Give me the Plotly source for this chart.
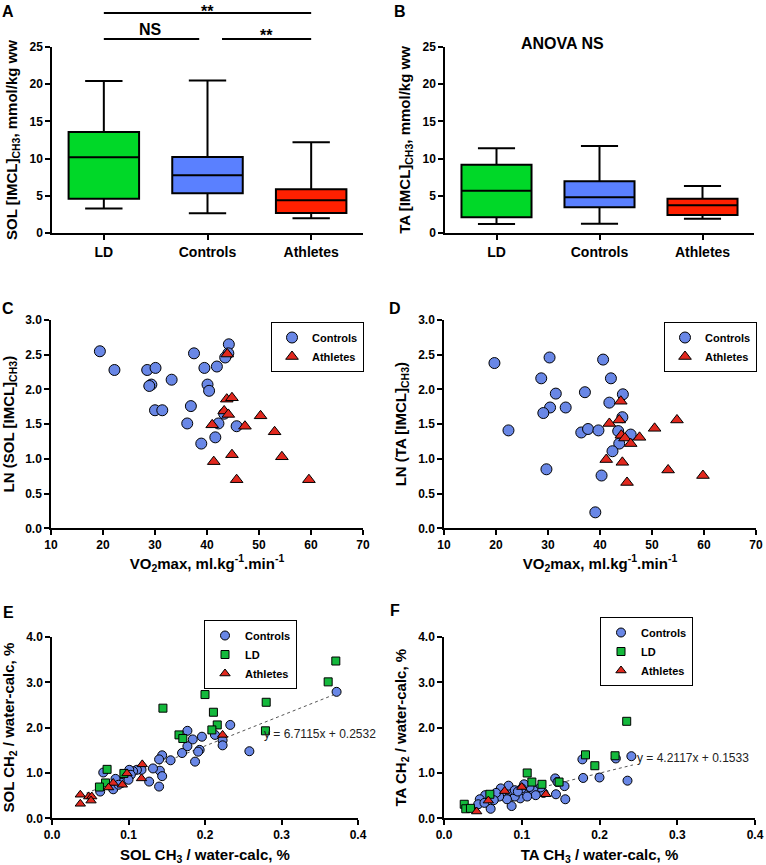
import plotly.graph_objects as go

# ---------------- data ----------------
groups = ["LD", "Controls", "Athletes"]
box_colors = ["rgb(0,216,40)", "rgb(90,128,255)", "rgb(255,32,0)"]

# Panel A: SOL [IMCL]CH3 box statistics
sol_lower = [3.3, 2.64, 1.97]
sol_q1 = [4.61, 5.33, 2.69]
sol_median = [10.17, 7.75, 4.39]
sol_q3 = [13.57, 10.2, 5.87]
sol_upper = [20.43, 20.5, 12.2]

# Panel B: TA [IMCL]CH3 box statistics
ta_lower = [1.21, 1.25, 1.93]
ta_q1 = [2.11, 3.45, 2.42]
ta_median = [5.69, 4.79, 3.72]
ta_q3 = [9.18, 6.94, 4.61]
ta_upper = [11.38, 11.69, 6.32]

# Panel C: LN(SOL) vs VO2max
c_ctrl_vo2 = [19.4, 22.2, 28.5, 30.1, 29.3, 28.9, 33.2, 30.0, 31.4, 37.5, 39.5, 41.9,
              40.1, 40.4, 36.9, 36.2, 42.2, 38.9, 41.6, 45.7, 44.2, 44.1, 43.5, 43.3]
c_ctrl_ln = [2.55, 2.28, 2.28, 2.31, 2.07, 2.05, 2.14, 1.70, 1.70, 2.52, 2.31, 2.33,
             2.07, 1.98, 1.76, 1.51, 1.51, 1.22, 1.31, 1.47, 2.65, 2.52, 2.46, 1.65]
c_ath_vo2 = [43.9, 43.8, 44.8, 43.3, 44.1, 41.0, 47.3, 50.3, 53.0, 54.4, 44.8, 41.3, 45.7, 59.6]
c_ath_ln = [2.51, 1.86, 1.88, 1.69, 1.64, 1.49, 1.47, 1.62, 1.39, 1.03, 1.06, 0.96, 0.70, 0.70]

# Panel D: LN(TA) vs VO2max
d_ctrl_vo2 = [19.7, 22.4, 28.7, 30.3, 31.5, 30.4, 29.1, 33.4, 29.7, 37.1, 36.4, 37.7,
              39.7, 40.6, 42.1, 41.8, 44.4, 44.3, 43.5, 43.7, 45.9, 42.4, 40.3, 39.1]
d_ctrl_ln = [2.38, 1.41, 2.16, 2.46, 1.94, 1.74, 1.66, 1.74, 0.85, 1.96, 1.38, 1.43,
             1.41, 2.43, 2.16, 1.81, 1.93, 1.60, 1.40, 1.22, 1.35, 1.11, 0.76, 0.23]
d_ath_vo2 = [44.0, 43.7, 41.8, 44.1, 44.8, 45.9, 47.6, 50.5, 54.8, 41.2, 44.3, 45.2, 53.1, 59.8]
d_ath_ln = [1.83, 1.56, 1.51, 1.34, 1.30, 1.22, 1.31, 1.44, 1.56, 0.99, 0.95, 0.66, 0.84, 0.76]

# Panel E: SOL CH2 vs CH3
e_ctrl_ch3 = [0.372, 0.258, 0.233, 0.223, 0.223, 0.213, 0.196, 0.193, 0.191, 0.187, 0.184, 0.177,
              0.177, 0.170, 0.155, 0.144, 0.140, 0.141, 0.144, 0.140, 0.132, 0.127, 0.117, 0.111,
              0.106, 0.101, 0.103, 0.096, 0.091, 0.083, 0.080, 0.087, 0.067, 0.063, 0.100]
e_ctrl_ch2 = [2.79, 1.48, 2.06, 1.72, 1.61, 1.84, 1.80, 1.51, 1.47, 1.25, 1.74, 1.93,
              1.59, 1.44, 1.28, 1.39, 1.30, 1.05, 0.93, 0.70, 1.10, 0.81, 1.07, 1.07,
              1.04, 1.07, 0.96, 0.91, 0.78, 0.87, 0.64, 0.74, 1.01, 0.59, 0.85]
e_ld_ch3 = [0.371, 0.361, 0.280, 0.279, 0.200, 0.145, 0.211, 0.216, 0.209, 0.166, 0.171,
            0.072, 0.094, 0.070, 0.062]
e_ld_ch2 = [3.47, 3.01, 2.56, 1.93, 2.73, 2.43, 2.34, 2.06, 1.95, 1.84, 1.76,
            1.08, 0.99, 0.78, 0.69]
e_ath_ch3 = [0.118, 0.117, 0.098, 0.092, 0.080, 0.074, 0.037, 0.037, 0.048, 0.052, 0.051, 0.223]
e_ath_ch2 = [1.19, 0.88, 0.99, 0.74, 0.78, 0.68, 0.52, 0.32, 0.48, 0.48, 0.39, 1.84]
e_slope, e_intercept = 6.7115, 0.2532
e_fit_x = [0.045, 0.370]

# Panel F: TA CH2 vs CH3
f_ctrl_ch3 = [0.241, 0.221, 0.236, 0.200, 0.179, 0.178, 0.143, 0.146, 0.155, 0.144, 0.156, 0.128,
              0.124, 0.115, 0.118, 0.110, 0.102, 0.103, 0.100, 0.098, 0.091, 0.087, 0.084, 0.083,
              0.081, 0.074, 0.071, 0.073, 0.067, 0.064, 0.060, 0.053, 0.046, 0.044, 0.052, 0.091,
              0.107, 0.095]
f_ctrl_ch2 = [1.37, 1.32, 0.83, 0.90, 0.89, 1.30, 0.88, 0.80, 0.71, 0.53, 0.42, 0.56,
              0.68, 0.62, 0.51, 0.69, 0.56, 0.75, 0.66, 0.44, 0.48, 0.27, 0.61, 0.72,
              0.42, 0.57, 0.48, 0.66, 0.56, 0.40, 0.21, 0.51, 0.42, 0.31, 0.34, 0.62,
              0.48, 0.59]
f_ld_ch3 = [0.235, 0.182, 0.220, 0.194, 0.107, 0.113, 0.126, 0.148, 0.059, 0.026, 0.028, 0.034]
f_ld_ch2 = [2.14, 1.40, 1.38, 1.16, 1.00, 0.80, 0.75, 0.80, 0.53, 0.31, 0.21, 0.22]
f_ath_ch3 = [0.042, 0.057, 0.131, 0.078, 0.100]
f_ath_ch2 = [0.15, 0.39, 0.53, 0.60, 0.69]
f_slope, f_intercept = 4.2117, 0.1533
f_fit_x = [0.045, 0.243]

# ---------------- styling ----------------
FONT = "Liberation Sans, Arial, sans-serif"
BLUE = "rgb(105,135,230)"
GREEN = "rgb(20,185,60)"
RED = "rgb(225,40,30)"
W, H = 766, 865


def px_x(p):
    return p / W


def px_y(p):
    return 1 - p / H


fig = go.Figure()

# Box panels
for axis_id, lo, q1, med, q3, up in [
    ("", sol_lower, sol_q1, sol_median, sol_q3, sol_upper),
    ("2", ta_lower, ta_q1, ta_median, ta_q3, ta_upper),
]:
    for i, g in enumerate(groups):
        fig.add_trace(go.Box(
            x=[g], q1=[q1[i]], median=[med[i]], q3=[q3[i]],
            lowerfence=[lo[i]], upperfence=[up[i]],
            fillcolor=box_colors[i], line=dict(color="black", width=2),
            width=0.68, whiskerwidth=0.53, boxpoints=False,
            showlegend=False, xaxis="x" + axis_id, yaxis="y" + axis_id,
        ))


def scat(x, y, name, symbol, color, size, xa, ya, legend):
    return go.Scatter(
        x=x, y=y, mode="markers", name=name,
        marker=dict(symbol=symbol, color=color, size=size,
                    line=dict(color="black", width=1)),
        xaxis=xa, yaxis=ya, legend=legend,
    )


fig.add_trace(scat(c_ctrl_vo2, c_ctrl_ln, "Controls", "circle", BLUE, 11, "x3", "y3", "legend"))
fig.add_trace(scat(c_ath_vo2, c_ath_ln, "Athletes", "triangle-up", RED, 11, "x3", "y3", "legend"))
fig.add_trace(scat(d_ctrl_vo2, d_ctrl_ln, "Controls", "circle", BLUE, 11, "x4", "y4", "legend2"))
fig.add_trace(scat(d_ath_vo2, d_ath_ln, "Athletes", "triangle-up", RED, 11, "x4", "y4", "legend2"))

# regression lines
fig.add_trace(go.Scatter(x=e_fit_x, y=[e_slope * v + e_intercept for v in e_fit_x],
                         mode="lines", line=dict(color="#555", width=1, dash="dot"),
                         showlegend=False, xaxis="x5", yaxis="y5"))
fig.add_trace(go.Scatter(x=f_fit_x, y=[f_slope * v + f_intercept for v in f_fit_x],
                         mode="lines", line=dict(color="#555", width=1, dash="dot"),
                         showlegend=False, xaxis="x6", yaxis="y6"))

fig.add_trace(scat(e_ctrl_ch3, e_ctrl_ch2, "Controls", "circle", BLUE, 9, "x5", "y5", "legend3"))
fig.add_trace(scat(e_ld_ch3, e_ld_ch2, "LD", "square", GREEN, 8, "x5", "y5", "legend3"))
fig.add_trace(scat(e_ath_ch3, e_ath_ch2, "Athletes", "triangle-up", RED, 9, "x5", "y5", "legend3"))
fig.add_trace(scat(f_ctrl_ch3, f_ctrl_ch2, "Controls", "circle", BLUE, 9, "x6", "y6", "legend4"))
fig.add_trace(scat(f_ld_ch3, f_ld_ch2, "LD", "square", GREEN, 8, "x6", "y6", "legend4"))
fig.add_trace(scat(f_ath_ch3, f_ath_ch2, "Athletes", "triangle-up", RED, 9, "x6", "y6", "legend4"))

tickfont = dict(family=FONT, size=12, color="black", weight="bold")
titlefont = dict(family=FONT, size=15, color="black", weight="bold")


def ax(domain, title=None, rng=None, dtick=None, fmt=None, anchor=None, standoff=None, cat=False):
    d = dict(domain=domain, showline=True, linecolor="black", linewidth=1.5,
             ticks="outside", ticklen=5, tickwidth=1.5, tickcolor="black",
             showgrid=False, zeroline=False, tickfont=tickfont, anchor=anchor,
             automargin=False)
    if cat:
        d["tickfont"] = dict(family=FONT, size=14, color="black", weight="bold")
        d["type"] = "category"
    if title is not None:
        d["title"] = dict(text=title, font=titlefont)
        if standoff is not None:
            d["title"]["standoff"] = standoff
    if rng is not None:
        d["range"] = rng
    if dtick is not None:
        d["dtick"] = dtick
        d["tick0"] = 0
    if fmt is not None:
        d["tickformat"] = fmt
    return d


yA = [px_y(233), px_y(47)]
yC = [px_y(528.3), px_y(320)]
yE = [px_y(818.3), px_y(637)]

fig.update_layout(
    width=W, height=H, margin=dict(l=0, r=0, t=0, b=0, autoexpand=False),
    paper_bgcolor="white", plot_bgcolor="white",
    boxmode="overlay",
    font=dict(family=FONT, color="black"),
    xaxis=ax([px_x(52), px_x(363)], rng=[-0.5, 2.5], anchor="y", cat=True),
    yaxis=ax(yA, title="SOL [IMCL]<sub>CH3</sub>, mmol/kg ww", rng=[0, 25], dtick=5,
             anchor="x", standoff=8),
    xaxis2=ax([px_x(445), px_x(754)], rng=[-0.5, 2.5], anchor="y2", cat=True),
    yaxis2=ax(yA, title="TA [IMCL]<sub>CH3</sub>, mmol/kg ww", rng=[0, 25], dtick=5,
              anchor="x2", standoff=8),
    xaxis3=ax([px_x(51), px_x(363)], title="VO<sub>2</sub>max, ml.kg<sup>-1</sup>.min<sup>-1</sup>",
              rng=[10, 70], dtick=10, anchor="y3", standoff=0),
    yaxis3=ax(yC, title="LN (SOL [IMCL]<sub>CH3</sub>)", rng=[0, 3], dtick=0.5, fmt=".1f",
              anchor="x3", standoff=8),
    xaxis4=ax([px_x(444), px_x(756)], title="VO<sub>2</sub>max, ml.kg<sup>-1</sup>.min<sup>-1</sup>",
              rng=[10, 70], dtick=10, anchor="y4", standoff=0),
    yaxis4=ax(yC, title="LN (TA [IMCL]<sub>CH3</sub>)", rng=[0, 3], dtick=0.5, fmt=".1f",
              anchor="x4", standoff=8),
    xaxis5=ax([px_x(52), px_x(358)], title="SOL CH<sub>3</sub> / water-calc, %",
              rng=[0, 0.4], dtick=0.1, fmt=".1f", anchor="y5", standoff=8),
    yaxis5=ax(yE, title="SOL CH<sub>2</sub> / water-calc, %", rng=[0, 4], dtick=1, fmt=".1f",
              anchor="x5", standoff=8),
    xaxis6=ax([px_x(444), px_x(755)], title="TA CH<sub>3</sub> / water-calc, %",
              rng=[0, 0.4], dtick=0.1, fmt=".1f", anchor="y6", standoff=8),
    yaxis6=ax(yE, title="TA CH<sub>2</sub> / water-calc, %", rng=[0, 4], dtick=1, fmt=".1f",
              anchor="x6", standoff=8),
)

legend_style = dict(bgcolor="white", bordercolor="black", borderwidth=1,
                    font=dict(family=FONT, size=11, color="black", weight="bold"),
                    itemsizing="trace", tracegroupgap=0)
fig.update_layout(
    legend=dict(x=px_x(364), y=px_y(322), xanchor="right", yanchor="top", **legend_style),
    legend2=dict(x=px_x(757), y=px_y(322), xanchor="right", yanchor="top", **legend_style),
    legend3=dict(x=px_x(204), y=px_y(620), xanchor="left", yanchor="top", **legend_style),
    legend4=dict(x=px_x(600), y=px_y(617), xanchor="left", yanchor="top", **legend_style),
)

# panel letters and text annotations
ann = []
for letter, x, y in [("A", 8, 12), ("B", 400, 12), ("C", 8, 308), ("D", 395, 308),
                     ("E", 8, 612), ("F", 395, 610)]:
    ann.append(dict(text=letter, x=px_x(x), y=px_y(y), xref="paper", yref="paper",
                    showarrow=False, xanchor="center", yanchor="middle",
                    font=dict(family=FONT, size=16, color="black", weight="bold")))
ann.append(dict(text="ANOVA NS", x=px_x(606), y=px_y(33), xref="paper", yref="paper",
                showarrow=False, font=dict(family=FONT, size=16, color="black", weight="bold")))
sigfont = dict(family=FONT, size=16, color="black", weight="bold")
ann.append(dict(text="**", x=1, y=px_y(11), xref="x", yref="paper", showarrow=False,
                yanchor="middle", font=sigfont))
ann.append(dict(text="NS", x=0.45, y=px_y(30), xref="x", yref="paper", showarrow=False,
                yanchor="middle", font=sigfont))
ann.append(dict(text="**", x=1.57, y=px_y(35), xref="x", yref="paper", showarrow=False,
                yanchor="middle", font=sigfont))
ann.append(dict(text=f"y = {e_slope}x + {e_intercept}", x=px_x(262), y=px_y(743),
                xref="paper", yref="paper", showarrow=False, xanchor="left",
                font=dict(family=FONT, size=12, color="#222")))
ann.append(dict(text=f"y = {f_slope}x + {f_intercept}", x=px_x(635), y=px_y(767),
                xref="paper", yref="paper", showarrow=False, xanchor="left",
                font=dict(family=FONT, size=12, color="#222")))
fig.update_layout(annotations=ann)

shapes = []
for x0, x1, yy in [(0, 2, 13), (0, 0.92, 39), (1.14, 2, 39)]:
    shapes.append(dict(type="line", xref="x", yref="paper", x0=x0, x1=x1,
                       y0=px_y(yy), y1=px_y(yy), line=dict(color="black", width=2)))
fig.update_layout(shapes=shapes)

fig.write_html("out.html", config={"displayModeBar": False},
               post_script="document.body.style.margin='0';document.body.style.overflow='hidden';")
